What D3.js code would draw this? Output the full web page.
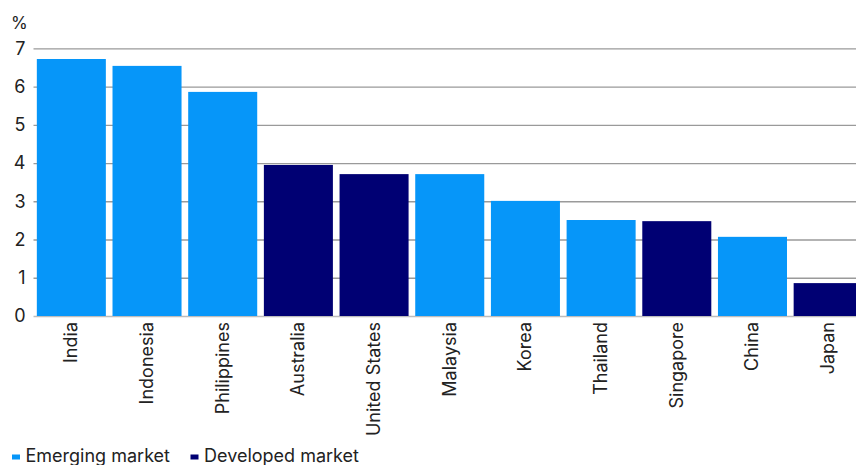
<!DOCTYPE html>
<html>
<head>
<meta charset="utf-8">
<script src="https://cdn.jsdelivr.net/npm/d3@7"></script>
<style>
  html, body { margin: 0; padding: 0; background: #fff; }
  svg { display: block; }
  text { font-family: Inter, "Noto Sans", sans-serif; fill: #222; }
</style>
</head>
<body>
<svg id="chart" width="856" height="465"></svg>
<script>
// Countries, ordered as drawn
const countries = ["India", "Indonesia", "Philippines", "Australia", "United States",
  "Malaysia", "Korea", "Thailand", "Singapore", "China", "Japan"];
// Value per country, %
const values = [6.72, 6.54, 5.86, 3.95, 3.71, 3.71, 3.01, 2.51, 2.48, 2.07, 0.86];
// Market group per country
const groups = ["Emerging market", "Emerging market", "Emerging market", "Developed market",
  "Developed market", "Emerging market", "Emerging market", "Emerging market",
  "Developed market", "Emerging market", "Developed market"];
const legendLabels = ["Emerging market", "Developed market"];
const yTicks = [0, 1, 2, 3, 4, 5, 6, 7];

const colour = d3.scaleOrdinal().domain(legendLabels).range(["#0696f9", "#000073"]);

const svg = d3.select("#chart");
const plot = { left: 33.5, right: 866, top: 48.3, bottom: 316 };

const x = d3.scaleBand().domain(countries).range([plot.left, plot.right]).paddingInner(0.088).paddingOuter(0.044);
const y = d3.scaleLinear().domain([0, 7]).range([plot.bottom, plot.top]);

// Horizontal gridlines with tick labels
const yAxis = svg.append("g")
  .attr("transform", `translate(${plot.left},0)`)
  .call(d3.axisLeft(y).tickValues(yTicks).tickSize(-(856 - plot.left)).tickPadding(8).tickFormat(d3.format("d")));
yAxis.select(".domain").remove();
yAxis.selectAll(".tick line")
  .attr("stroke", d => d === 0 ? "#bdbdbd" : "#9a9a9a")
  .attr("stroke-width", 1.3);
yAxis.selectAll(".tick text")
  .attr("font-size", 18).attr("fill", "#222");

svg.append("text").attr("x", 11).attr("y", 29).attr("font-size", 17).text("%");

// Bars
svg.append("g").selectAll("rect")
  .data(countries)
  .join("rect")
  .attr("x", d => x(d))
  .attr("width", x.bandwidth())
  .attr("y", (d, i) => y(values[i]))
  .attr("height", (d, i) => y(0) - y(values[i]))
  .attr("fill", (d, i) => colour(groups[i]));

// Category labels, rotated
const xAxis = svg.append("g")
  .attr("transform", `translate(0,${plot.bottom})`)
  .call(d3.axisBottom(x).tickSize(0).tickPadding(0));
xAxis.select(".domain").remove();
xAxis.selectAll(".tick text")
  .attr("font-size", 18)
  .attr("fill", "#222")
  .attr("text-anchor", "end")
  .attr("dy", null)
  .attr("transform", "translate(6,6) rotate(-90)");

// Legend
const legendX = [12, 190.5];
const legend = svg.append("g").selectAll("g")
  .data(legendLabels)
  .join("g")
  .attr("transform", (d, i) => `translate(${legendX[i]},0)`);
legend.append("rect")
  .attr("x", 0).attr("y", 454.5).attr("width", 8).attr("height", 5)
  .attr("fill", d => colour(d));
legend.append("text")
  .attr("x", 13.5).attr("y", 461.5).attr("font-size", 18)
  .text(d => d);
</script>
</body>
</html>
